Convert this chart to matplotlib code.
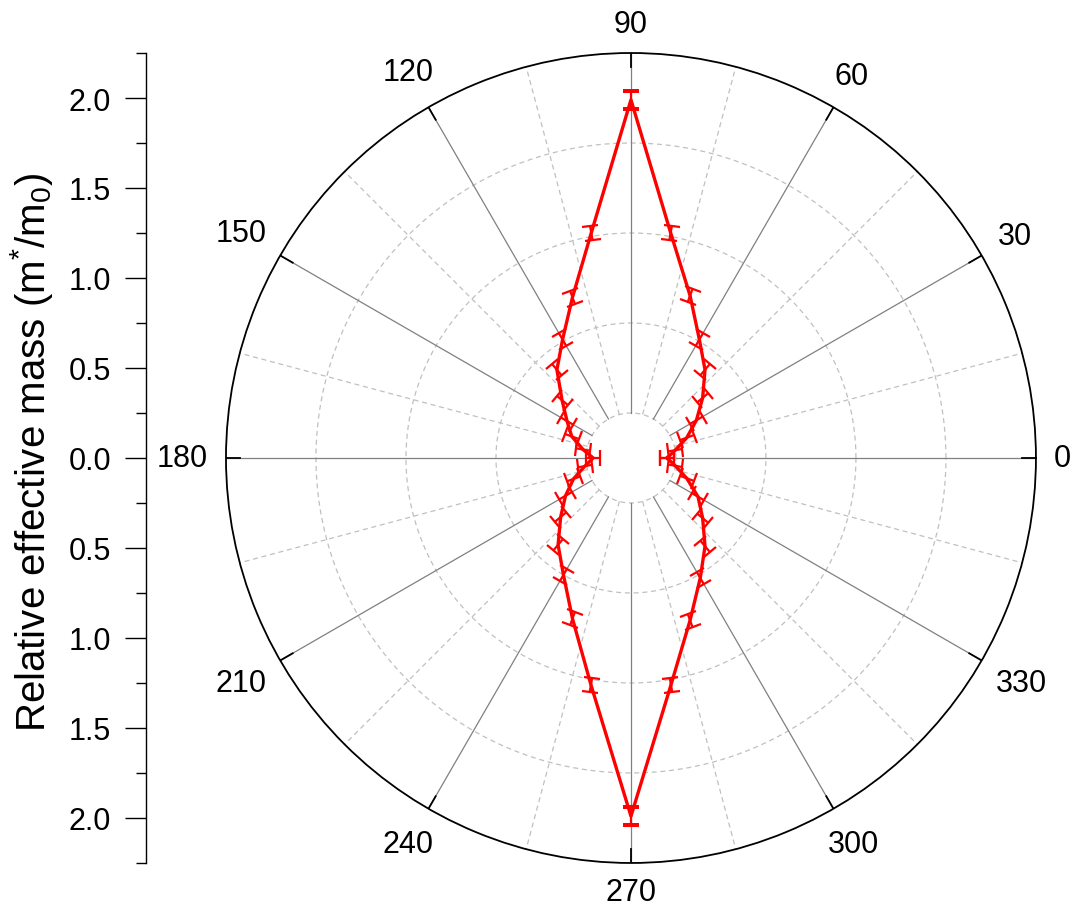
"""Polar plot of the relative effective mass with radial error bars."""

import matplotlib

matplotlib.use("Agg")
import matplotlib.pyplot as plt
import numpy as np
from matplotlib.ticker import FuncFormatter, MultipleLocator

plt.rcParams["font.family"] = ["Liberation Sans", "DejaVu Sans"]
plt.rcParams["mathtext.fontset"] = "custom"
plt.rcParams["mathtext.rm"] = "Liberation Sans"
plt.rcParams["mathtext.it"] = "Liberation Sans:italic"

# angles in degrees and relative effective mass
angles = [0, 10, 20, 30, 40, 50, 60, 70, 80, 90,
          100, 110, 120, 130, 140, 150, 160, 170, 180,
          190, 200, 210, 220, 230, 240, 250, 260, 270,
          280, 290, 300, 310, 320, 330, 340, 350, 360]
mass = [0.20, 0.25, 0.33, 0.42, 0.52, 0.64, 0.76, 0.96, 1.27, 1.99,
        1.27, 0.95, 0.76, 0.64, 0.50, 0.41, 0.35, 0.27, 0.21,
        0.26, 0.34, 0.42, 0.51, 0.63, 0.75, 0.95, 1.28, 1.99,
        1.28, 0.96, 0.77, 0.64, 0.52, 0.43, 0.33, 0.25, 0.20]
mass_err = [0.04, 0.04, 0.04, 0.04, 0.04, 0.04, 0.04, 0.04, 0.04, 0.05,
            0.04, 0.04, 0.04, 0.04, 0.04, 0.04, 0.04, 0.04, 0.04,
            0.04, 0.04, 0.04, 0.04, 0.04, 0.04, 0.04, 0.04, 0.05,
            0.04, 0.04, 0.04, 0.04, 0.04, 0.04, 0.04, 0.04, 0.04]

angle_labels = [0, 30, 60, 90, 120, 150, 180, 210, 240, 270, 300, 330]
radial_ticks = [-2.0, -1.5, -1.0, -0.5, 0.0, 0.5, 1.0, 1.5, 2.0]

R_MIN, R_MAX = 0.25, 2.25
RED = "#FF0000"
SPOKE = "#808080"
LIGHT = "#C0C0C0"

fig = plt.figure(figsize=(10.76, 9.2), dpi=100)
ax = fig.add_axes([0.2100, 0.0609, 0.7528, 0.8804], projection="polar")
ax.set_ylim(0, R_MAX)
ax.grid(False)
ax.set_xticks([])
ax.set_yticks([])
ax.spines["polar"].set_color("black")
ax.spines["polar"].set_linewidth(1.3)

# grid: dashed circles, solid major spokes and dashed minor spokes
circle = np.linspace(0, 2 * np.pi, 721)
for r in [0.25, 0.75, 1.25, 1.75]:
    ax.plot(circle, np.full_like(circle, r), color=LIGHT, lw=0.9,
            dashes=(4, 3), zorder=1)
for a in range(0, 360, 15):
    t = np.deg2rad(a)
    if a % 30 == 0:
        ax.plot([t, t], [R_MIN, R_MAX], color=SPOKE, lw=0.9, zorder=1)
        ax.plot([t, t], [R_MAX - 0.08, R_MAX], color="black", lw=1.3, zorder=2)
    else:
        ax.plot([t, t], [R_MIN, R_MAX], color=LIGHT, lw=0.9,
                dashes=(4, 3), zorder=1)

# angle labels outside the circle
for a in angle_labels:
    t = np.deg2rad(a)
    label = str(a)
    half_w = 8.5 * len(label)
    half_h = 11
    dist = 18 + half_w * abs(np.cos(t)) + half_h * abs(np.sin(t))
    ax.annotate(label, (t, R_MAX), xytext=(dist * np.cos(t), dist * np.sin(t)),
                textcoords="offset pixels", ha="center", va="center",
                fontsize=22, annotation_clip=False)

theta = np.deg2rad(angles)
ax.errorbar(theta, mass, yerr=mass_err, color=RED, lw=2.4, elinewidth=1.6,
            capsize=6, capthick=1.6, zorder=3)

# linear radial scale drawn on the left, running up and down from zero
ax_r = fig.add_axes([146 / 1076, 0.0609, 0.0005, 0.8804])
ax_r.set_ylim(-R_MAX, R_MAX)
ax_r.set_xticks([])
for side in ["top", "right", "bottom"]:
    ax_r.spines[side].set_visible(False)
ax_r.spines["left"].set_linewidth(1.0)
ax_r.set_yticks(radial_ticks)
ax_r.yaxis.set_minor_locator(MultipleLocator(0.25))
ax_r.yaxis.set_major_formatter(FuncFormatter(lambda v, _: f"{abs(v):.1f}"))
ax_r.tick_params(axis="y", which="major", length=15, width=1.0, pad=10,
                 labelsize=22)
ax_r.tick_params(axis="y", which="minor", length=7, width=1.0)
ax_r.set_ylabel("Relative effective mass (m$^{*}$/m$_{0}$)", fontsize=29)
ax_r.yaxis.set_label_coords(0.051, 0.5087, transform=fig.transFigure)

fig.savefig("out.png", dpi=100)
